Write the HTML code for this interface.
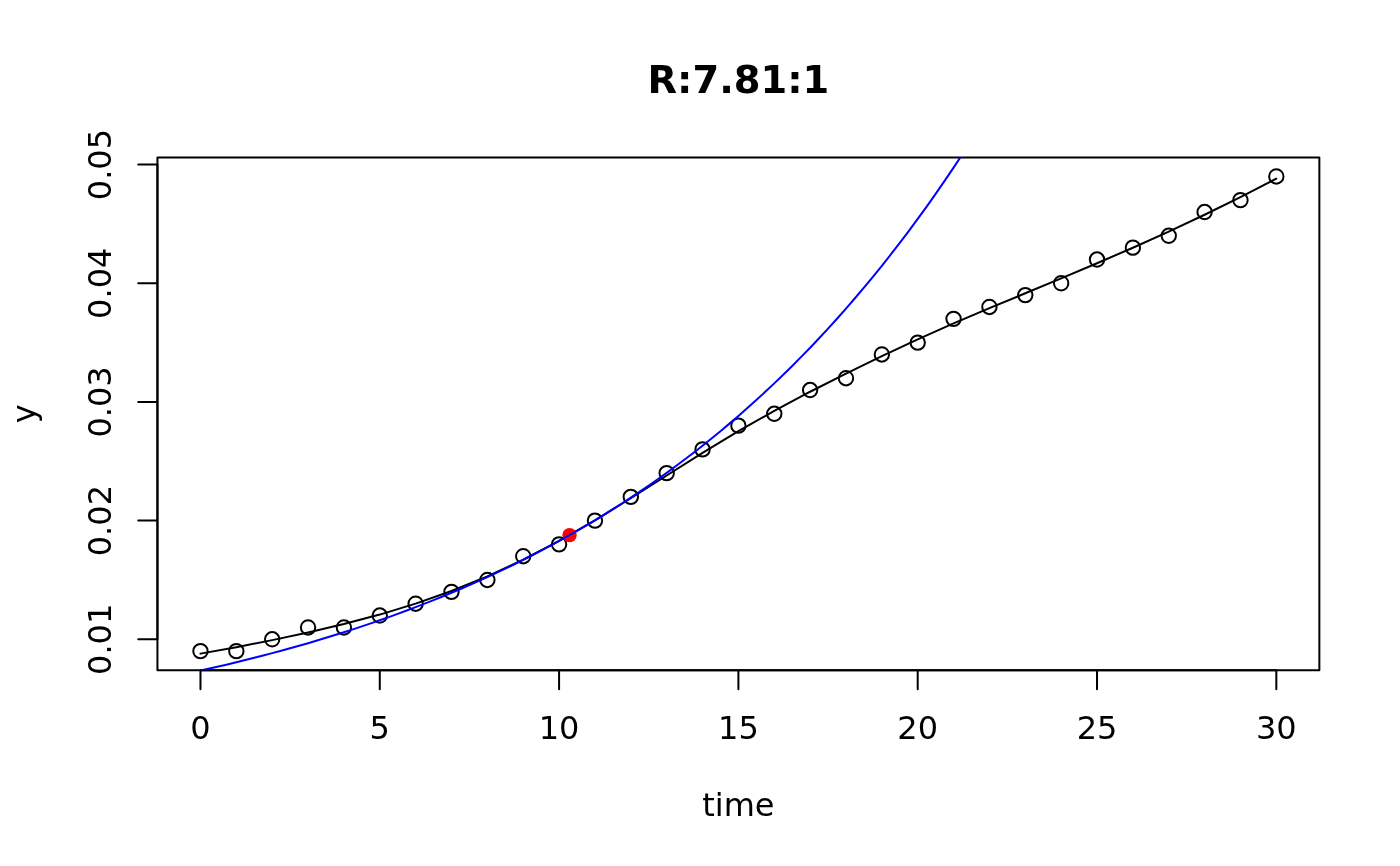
<!DOCTYPE html>
<html lang="en">
<head>
<meta charset="utf-8">
<title>R:7.81:1</title>
<style>
html,body{margin:0;padding:0;background:#fff;}
body{width:1400px;height:866px;overflow:hidden;}
svg{display:block;}
text{font-family:"DejaVu Sans","Liberation Sans",sans-serif;font-size:32px;fill:#000;}
.main{font-weight:bold;font-size:38.4px;text-rendering:geometricPrecision;}
</style>
</head>
<body>
<svg width="1400" height="866" viewBox="0 0 1400 866">
<rect width="1400" height="866" fill="#fff"/>
<defs><clipPath id="plot"><rect x="157.44" y="157.44" width="1161.92" height="512.72"/></clipPath></defs>
<g clip-path="url(#plot)" fill="none" stroke="#000" stroke-width="2">
<circle cx="200.47" cy="651.17" r="7.2"/>
<circle cx="236.34" cy="651.17" r="7.2"/>
<circle cx="272.20" cy="639.30" r="7.2"/>
<circle cx="308.06" cy="627.43" r="7.2"/>
<circle cx="343.92" cy="627.43" r="7.2"/>
<circle cx="379.78" cy="615.56" r="7.2"/>
<circle cx="415.64" cy="603.70" r="7.2"/>
<circle cx="451.51" cy="591.83" r="7.2"/>
<circle cx="487.37" cy="579.96" r="7.2"/>
<circle cx="523.23" cy="556.22" r="7.2"/>
<circle cx="559.09" cy="544.35" r="7.2"/>
<circle cx="594.95" cy="520.62" r="7.2"/>
<circle cx="630.81" cy="496.88" r="7.2"/>
<circle cx="666.68" cy="473.14" r="7.2"/>
<circle cx="702.54" cy="449.41" r="7.2"/>
<circle cx="738.40" cy="425.67" r="7.2"/>
<circle cx="774.26" cy="413.80" r="7.2"/>
<circle cx="810.12" cy="390.06" r="7.2"/>
<circle cx="845.99" cy="378.19" r="7.2"/>
<circle cx="881.85" cy="354.46" r="7.2"/>
<circle cx="917.71" cy="342.59" r="7.2"/>
<circle cx="953.57" cy="318.85" r="7.2"/>
<circle cx="989.43" cy="306.98" r="7.2"/>
<circle cx="1025.29" cy="295.11" r="7.2"/>
<circle cx="1061.16" cy="283.25" r="7.2"/>
<circle cx="1097.02" cy="259.51" r="7.2"/>
<circle cx="1132.88" cy="247.64" r="7.2"/>
<circle cx="1168.74" cy="235.77" r="7.2"/>
<circle cx="1204.60" cy="212.04" r="7.2"/>
<circle cx="1240.46" cy="200.17" r="7.2"/>
<circle cx="1276.33" cy="176.43" r="7.2"/>
</g>
<g fill="none" stroke="#000" stroke-width="2" stroke-linecap="round" stroke-linejoin="round">
<path d="M200.47 670.16H1276.33M200.47 670.16V689.36M379.78 670.16V689.36M559.09 670.16V689.36M738.40 670.16V689.36M917.71 670.16V689.36M1097.02 670.16V689.36M1276.33 670.16V689.36"/>
<path d="M157.44 639.30V164.56M157.44 639.30H138.24M157.44 520.62H138.24M157.44 401.93H138.24M157.44 283.25H138.24M157.44 164.56H138.24"/>
<rect x="157.44" y="157.44" width="1161.92" height="512.72"/>
</g>
<g clip-path="url(#plot)" fill="none" stroke-width="2" stroke-linecap="round" stroke-linejoin="round">
<polyline stroke="#000" points="200.47,653.63 236.34,647.19 272.20,640.12 308.06,632.42 343.92,624.06 379.78,614.59 415.64,603.66 451.51,591.02 487.37,576.41 523.23,559.67 559.09,540.94 594.95,520.31 630.81,498.23 666.68,475.47 702.54,452.88 738.40,431.22 774.26,410.90 810.12,391.74 845.99,373.59 881.85,356.17 917.71,339.45 953.57,323.41 989.43,308.12 1025.29,293.29 1061.16,278.45 1097.02,263.25 1132.88,247.71 1168.74,231.61 1204.60,214.73 1240.46,197.10 1276.33,178.68"/>
<circle cx="569.54" cy="535.11" r="7.2" fill="#ff0000" stroke="none"/>
<polyline stroke="#0000ff" points="200.47,670.59 209.44,668.58 218.40,666.53 227.37,664.42 236.34,662.27 245.30,660.07 254.27,657.82 263.23,655.51 272.20,653.15 281.16,650.74 290.13,648.28 299.09,645.75 308.06,643.17 317.02,640.53 325.99,637.83 334.96,635.06 343.92,632.24 352.89,629.34 361.85,626.38 370.82,623.36 379.78,620.26 388.75,617.09 397.71,613.85 406.68,610.54 415.64,607.14 424.61,603.67 433.58,600.12 442.54,596.49 451.51,592.78 460.47,588.98 469.44,585.09 478.40,581.11 487.37,577.04 496.33,572.88 505.30,568.62 514.26,564.27 523.23,559.81 532.20,555.25 541.16,550.59 550.13,545.82 559.09,540.94 568.06,535.95 577.02,530.84 585.99,525.61 594.95,520.27 603.92,514.80 612.88,509.21 621.85,503.49 630.81,497.63 639.78,491.64 648.75,485.52 657.71,479.25 666.68,472.84 675.64,466.28 684.61,459.57 693.57,452.70 702.54,445.68 711.50,438.50 720.47,431.15 729.43,423.63 738.40,415.94 747.37,408.07 756.33,400.02 765.30,391.79 774.26,383.36 783.23,374.75 792.19,365.93 801.16,356.91 810.12,347.69 819.09,338.25 828.05,328.59 837.02,318.72 845.99,308.61 854.95,298.27 863.92,287.70 872.88,276.88 881.85,265.82 890.81,254.49 899.78,242.91 908.74,231.06 917.71,218.94 926.67,206.54 935.64,193.86 944.60,180.88 953.57,167.61 962.54,154.03 971.50,140.14 980.47,125.92 989.43,111.39"/>
</g>
<g>
<text x="200.47" y="739.28" text-anchor="middle">0</text>
<text x="379.78" y="739.28" text-anchor="middle">5</text>
<text x="559.09" y="739.28" text-anchor="middle">10</text>
<text x="738.40" y="739.28" text-anchor="middle">15</text>
<text x="917.71" y="739.28" text-anchor="middle">20</text>
<text x="1097.02" y="739.28" text-anchor="middle">25</text>
<text x="1276.33" y="739.28" text-anchor="middle">30</text>
</g>
<g>
<text transform="translate(111.36 639.30) rotate(-90)" text-anchor="middle">0.01</text>
<text transform="translate(111.36 520.62) rotate(-90)" text-anchor="middle">0.02</text>
<text transform="translate(111.36 401.93) rotate(-90)" text-anchor="middle">0.03</text>
<text transform="translate(111.36 283.25) rotate(-90)" text-anchor="middle">0.04</text>
<text transform="translate(111.36 164.56) rotate(-90)" text-anchor="middle">0.05</text>
</g>
<text class="main" x="738.40" y="93" text-anchor="middle">R:7.81:1</text>
<text x="738.40" y="816.08" text-anchor="middle">time</text>
<text transform="translate(34.56 413.80) rotate(-90)" text-anchor="middle">y</text>
</svg>
</body>
</html>
